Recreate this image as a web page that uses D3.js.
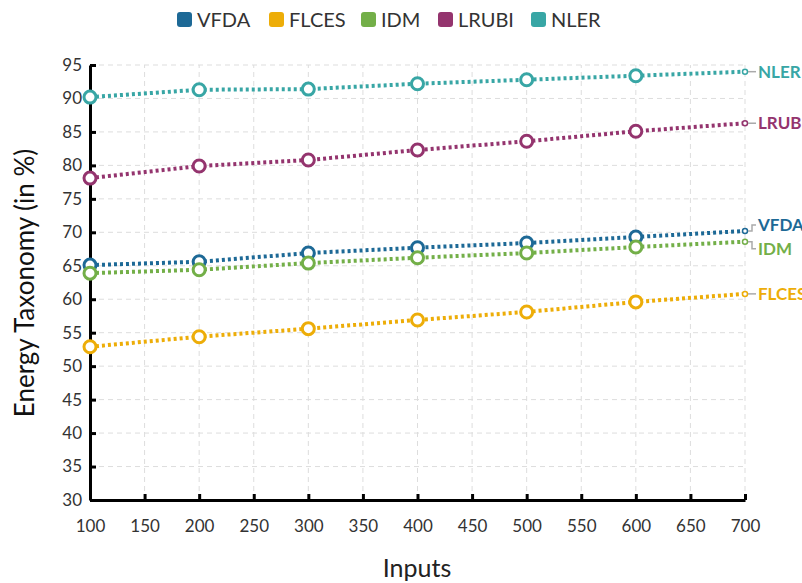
<!DOCTYPE html>
<html><head><meta charset="utf-8">
<script src="https://cdn.jsdelivr.net/npm/d3@7"></script>
<style>body{margin:0;background:#fff;font-family:Lato,sans-serif;}</style>
</head><body><svg id="c" width="802" height="583"></svg>
<script>
const inputs = [100, 200, 300, 400, 500, 600, 700];
const seriesNames = ["VFDA", "FLCES", "IDM", "LRUBI", "NLER"];
const colors = ["#1D6996", "#EDAD08", "#73AF48", "#94346E", "#38A6A5"];
const VFDA  = [65.1, 65.6, 66.9, 67.7, 68.4, 69.3, 70.2];
const FLCES = [52.9, 54.4, 55.6, 56.9, 58.1, 59.6, 60.8];
const IDM   = [63.9, 64.4, 65.4, 66.2, 66.9, 67.8, 68.6];
const LRUBI = [78.1, 79.9, 80.8, 82.3, 83.6, 85.1, 86.3];
const NLER  = [90.2, 91.3, 91.4, 92.2, 92.8, 93.4, 94.0];
const xTicks = [100,150,200,250,300,350,400,450,500,550,600,650,700];
const yTicks = [30,35,40,45,50,55,60,65,70,75,80,85,90,95];
const labelOffsets = [-6, 0, 7, 0, 0];

const data = [VFDA, FLCES, IDM, LRUBI, NLER];
const svg = d3.select("#c");
const x = d3.scaleLinear().domain([100, 700]).range([90, 745]);
const y = d3.scaleLinear().domain([30, 95]).range([500, 65]);

// grid
svg.append("g").selectAll("line").data(xTicks.slice(1)).join("line")
  .attr("x1", d => x(d)).attr("x2", d => x(d)).attr("y1", y(30)).attr("y2", y(95))
  .attr("stroke", "#ddd").attr("stroke-dasharray", "5,4").attr("stroke-width", 1);
svg.append("g").selectAll("line").data(yTicks.slice(1)).join("line")
  .attr("y1", d => y(d)).attr("y2", d => y(d)).attr("x1", x(100)).attr("x2", x(700))
  .attr("stroke", "#ddd").attr("stroke-dasharray", "5,4").attr("stroke-width", 1);

// axes
const xAxis = svg.append("g").attr("transform", `translate(0,${y(30)})`)
  .call(d3.axisBottom(x).tickValues(xTicks).tickSizeInner(-6).tickSizeOuter(0).tickPadding(14));
const yAxis = svg.append("g").attr("transform", `translate(${x(100)},0)`)
  .call(d3.axisLeft(y).tickValues(yTicks).tickSizeInner(-6).tickSizeOuter(0).tickPadding(10));
[xAxis, yAxis].forEach(a => {
  a.select(".domain").attr("stroke", "#000").attr("stroke-width", 3);
  a.selectAll(".tick line").attr("stroke", "#000").attr("stroke-width", 3);
  a.selectAll(".tick text").attr("fill", "#333").style("font-family", "Lato").style("font-size", "17px");
});
xAxis.selectAll(".tick text").attr("dy", "0").attr("y", 32);
yAxis.selectAll(".tick text").attr("x", -8);

// axis titles
svg.append("text").attr("x", 417).attr("y", 577).attr("text-anchor", "middle")
  .style("font-family", "Lato").style("font-size", "25px").attr("fill", "#222").text("Inputs");
svg.append("text").attr("transform", "translate(34,283) rotate(-90)").attr("text-anchor", "middle")
  .style("font-family", "Lato").style("font-size", "26px").attr("fill", "#111").text("Energy Taxonomy (in %)");

// lines
const line = d3.line().x((d, i) => x(inputs[i])).y(d => y(d));
data.forEach((vals, s) => {
  const g = svg.append("g");
  g.append("path").datum(vals).attr("d", line).attr("fill", "none")
    .attr("stroke", colors[s]).attr("stroke-width", 4).attr("stroke-dasharray", "3,3");
  g.selectAll("circle.m").data(vals.slice(0, 6)).join("circle").attr("class", "m")
    .attr("cx", (d, i) => x(inputs[i])).attr("cy", d => y(d)).attr("r", 6)
    .attr("fill", "#fff").attr("stroke", colors[s]).attr("stroke-width", 3);
  const last = vals[vals.length - 1];
  g.append("circle").attr("cx", x(700)).attr("cy", y(last)).attr("r", 2.5)
    .attr("fill", "#fff").attr("stroke", colors[s]).attr("stroke-width", 1.5);
  const ly = y(last) + labelOffsets[s];
  if (labelOffsets[s] === 0) {
    g.append("line").attr("x1", x(700) + 3).attr("x2", x(700) + 11)
      .attr("y1", ly).attr("y2", ly).attr("stroke", "#aaa").attr("stroke-width", 1.5);
  } else {
    g.append("path").attr("d", `M${x(700)+3},${y(last)} H${x(700)+7} V${ly} H${x(700)+11}`)
      .attr("fill", "none").attr("stroke", "#aaa").attr("stroke-width", 1.5);
  }
  g.append("text").attr("x", x(700) + 13).attr("y", ly).attr("dy", "0.36em")
    .style("font-family", "Lato").style("font-size", "17px").style("font-weight", "700")
    .attr("fill", colors[s]).text(seriesNames[s]);
});

// legend
const legendX = [177, 269, 361, 438, 531];
const lg = svg.append("g");
seriesNames.forEach((n, i) => {
  lg.append("rect").attr("x", legendX[i]).attr("y", 12).attr("width", 15).attr("height", 15)
    .attr("rx", 3).attr("fill", colors[i]);
  lg.append("text").attr("x", legendX[i] + 20).attr("y", 19.5).attr("dy", "0.36em")
    .style("font-family", "Lato").style("font-size", "20px").attr("fill", "#333").text(n);
});
</script></body></html>
